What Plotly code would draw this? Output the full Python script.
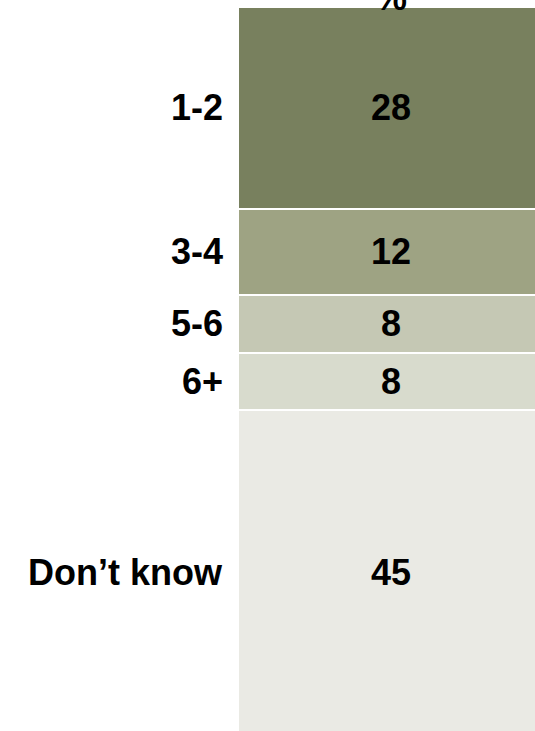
import plotly.graph_objects as go

# Share of respondents by answer, stacked top-to-bottom in one column
categories = ["1-2", "3-4", "5-6", "6+", "Don’t know"]
values = [28, 12, 8, 8, 45]
colors = ["#78805E", "#9EA383", "#C5C8B4", "#D8DBCD", "#EAEAE4"]
header = "%"

FONT = "Arial, Liberation Sans, sans-serif"
SIZE = 36

fig = go.Figure()
for cat, val, col in zip(categories, values, colors):
    fig.add_trace(go.Bar(
        x=[0], y=[val], name=cat, width=1,
        marker=dict(color=col, line=dict(color="white", width=2)),
        text=[f"<b>{val}</b>"], textposition="inside",
        insidetextanchor="middle", textangle=0, constraintext="none",
        textfont=dict(family=FONT, size=SIZE, color="black"),
        hoverinfo="skip", showlegend=False,
    ))

# Category labels to the left of each segment, centred on it
annotations = []
base = 0
for cat, val in zip(categories, values):
    annotations.append(dict(
        xref="paper", yref="y", x=0, y=base + val / 2,
        xanchor="right", yanchor="middle", xshift=-13,
        text=f"<b>{cat}</b>", showarrow=False,
        font=dict(family=FONT, size=SIZE, color="black"),
    ))
    base += val

# Column header above the bar
annotations.append(dict(
    xref="x", yref="paper", x=0, y=1, xanchor="center", yanchor="middle",
    yshift=10, text=f"<b>{header}</b>", showarrow=False,
    font=dict(family=FONT, size=SIZE, color="black"),
))

fig.update_layout(
    width=535, height=731,
    margin=dict(l=238, r=0, t=7, b=0),
    barmode="stack",
    plot_bgcolor="white", paper_bgcolor="white",
    xaxis=dict(range=[-0.5, 0.4706], visible=False, fixedrange=True),
    yaxis=dict(range=[100.56, 0], visible=False, fixedrange=True),
    annotations=annotations,
)

fig.write_html("out.html")
